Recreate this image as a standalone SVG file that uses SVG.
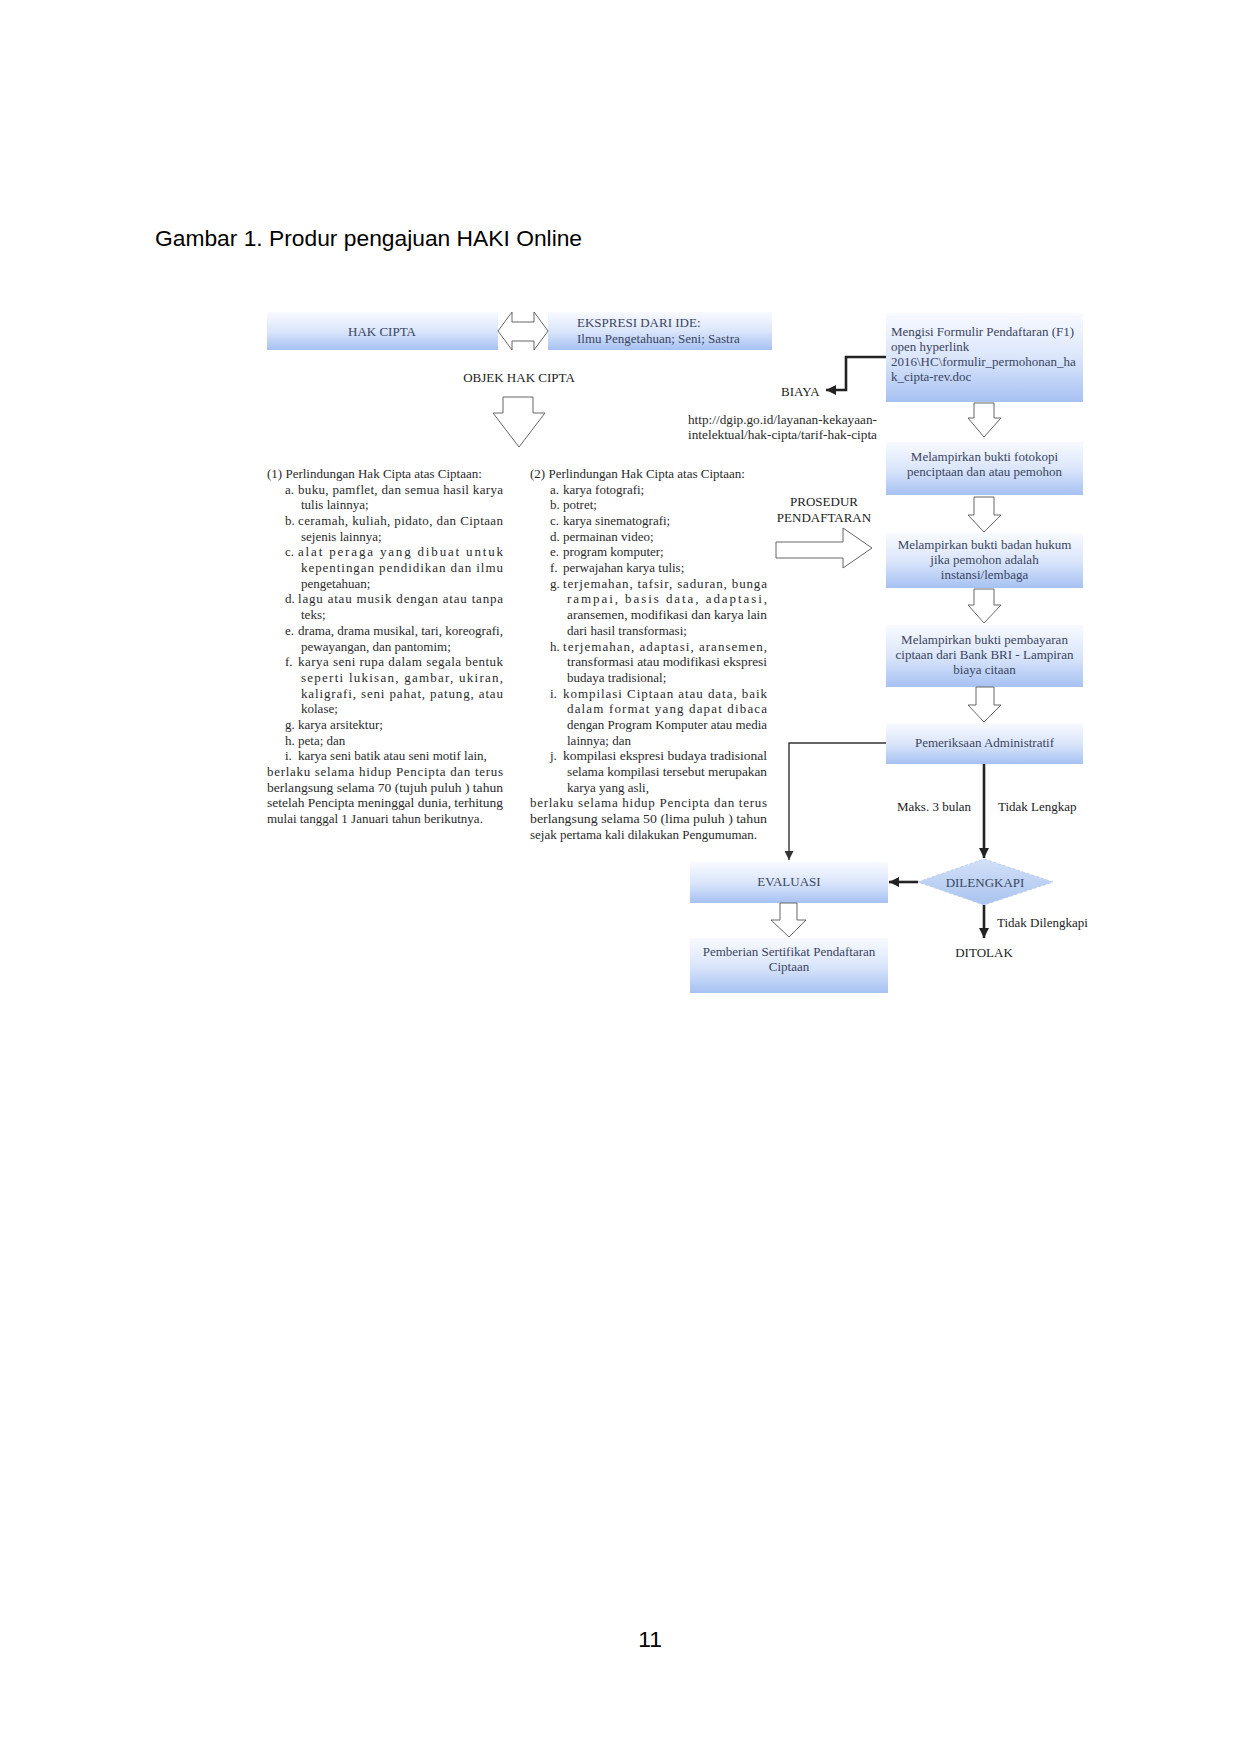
<svg xmlns="http://www.w3.org/2000/svg" width="1241" height="1755" viewBox="0 0 1241 1755">
<defs>
<linearGradient id="boxg" x1="0" y1="0" x2="0" y2="1">
<stop offset="0" stop-color="#f8faff"/>
<stop offset="0.5" stop-color="#dbe6fb"/>
<stop offset="1" stop-color="#a6c1f2"/>
</linearGradient>
<linearGradient id="diag" x1="0" y1="0" x2="0" y2="1">
<stop offset="0" stop-color="#d3e1f8"/>
<stop offset="1" stop-color="#a9c3ef"/>
</linearGradient>
<marker id="ah" viewBox="0 0 10 10" refX="10" refY="5" markerWidth="11" markerHeight="10" orient="auto" markerUnits="userSpaceOnUse">
<path d="M0,0 L10,5 L0,10 z" fill="#222"/>
</marker>
<marker id="ahs" viewBox="0 0 10 10" refX="10" refY="5" markerWidth="9" markerHeight="9" orient="auto" markerUnits="userSpaceOnUse">
<path d="M0,0 L10,5 L0,10 z" fill="#333"/>
</marker>
</defs>
<style>
.box{fill:url(#boxg);stroke:none}
.bx{font-family:"Liberation Serif","Times New Roman",serif;font-size:13px;fill:#3a4560}
.t{font-family:"Liberation Serif","Times New Roman",serif;font-size:13px;fill:#222}
.c{font-family:"Liberation Serif","Times New Roman",serif;font-size:13px;fill:#2a2a2a}
.hollow{fill:#fff;stroke:#666;stroke-width:1}
.thick{fill:none;stroke:#222;stroke-width:2.6}
.thin{fill:none;stroke:#333;stroke-width:1.4}
.sans{font-family:"Liberation Sans",Arial,sans-serif;font-size:22.8px;fill:#000}
</style>
<rect width="1241" height="1755" fill="#fff"/>
<text class="sans" x="155" y="246">Gambar 1. Produr pengajuan HAKI Online</text>
<text class="sans" x="650" y="1647" text-anchor="middle">11</text>

<g id="hak-cipta">
<rect class="box" x="267" y="312" width="231" height="38"/>
<text class="bx" x="382" y="336" text-anchor="middle">HAK CIPTA</text>
</g>
<g id="ekspresi">
<rect class="box" x="548" y="312" width="224" height="38"/>
<text class="bx" x="577" y="327">EKSPRESI DARI IDE:</text>
<text class="bx" x="577" y="343">Ilmu Pengetahuan; Seni; Sastra</text>
</g>
<g id="objek">
<text class="t" x="519" y="382" text-anchor="middle">OBJEK HAK CIPTA</text>
</g>

<g id="col1">
<text class="c" x="267" y="478">(1) Perlindungan Hak Cipta atas Ciptaan:</text>
<text class="c" x="285" y="493.7">a.</text><text class="c" x="298" y="493.7" textLength="205" lengthAdjust="spacing">buku, pamflet, dan semua hasil karya</text>
<text class="c" x="301" y="509.4">tulis lainnya;</text>
<text class="c" x="285" y="525">b.</text><text class="c" x="298" y="525" textLength="205" lengthAdjust="spacing">ceramah, kuliah, pidato, dan Ciptaan</text>
<text class="c" x="301" y="540.7">sejenis lainnya;</text>
<text class="c" x="285" y="556.4">c.</text><text class="c" x="298" y="556.4" textLength="205" lengthAdjust="spacing">alat peraga yang dibuat untuk</text>
<text class="c" x="301" y="572.1" textLength="202" lengthAdjust="spacing">kepentingan pendidikan dan ilmu</text>
<text class="c" x="301" y="587.8">pengetahuan;</text>
<text class="c" x="285" y="603.4">d.</text><text class="c" x="298" y="603.4" textLength="205" lengthAdjust="spacing">lagu atau musik dengan atau tanpa</text>
<text class="c" x="301" y="619.1">teks;</text>
<text class="c" x="285" y="634.8">e.</text><text class="c" x="298" y="634.8" textLength="205" lengthAdjust="spacingAndGlyphs">drama, drama musikal, tari, koreografi,</text>
<text class="c" x="301" y="650.5">pewayangan, dan pantomim;</text>
<text class="c" x="285" y="666.2">f.</text><text class="c" x="298" y="666.2" textLength="205" lengthAdjust="spacing">karya seni rupa dalam segala bentuk</text>
<text class="c" x="301" y="681.8" textLength="202" lengthAdjust="spacing">seperti lukisan, gambar, ukiran,</text>
<text class="c" x="301" y="697.5" textLength="202" lengthAdjust="spacing">kaligrafi, seni pahat, patung, atau</text>
<text class="c" x="301" y="713.2">kolase;</text>
<text class="c" x="285" y="728.9">g.</text><text class="c" x="298" y="728.9">karya arsitektur;</text>
<text class="c" x="285" y="744.6">h.</text><text class="c" x="298" y="744.6">peta; dan</text>
<text class="c" x="285" y="760.2">i.</text><text class="c" x="298" y="760.2">karya seni batik atau seni motif lain,</text>
<text class="c" x="267" y="775.9" textLength="236" lengthAdjust="spacing">berlaku selama hidup Pencipta dan terus</text>
<text class="c" x="267" y="791.6" textLength="236" lengthAdjust="spacingAndGlyphs">berlangsung selama 70 (tujuh puluh ) tahun</text>
<text class="c" x="267" y="807.3" textLength="236" lengthAdjust="spacingAndGlyphs">setelah Pencipta meninggal dunia, terhitung</text>
<text class="c" x="267" y="823">mulai tanggal 1 Januari tahun berikutnya.</text>
</g>

<g id="col2">
<text class="c" x="530" y="478">(2) Perlindungan Hak Cipta atas Ciptaan:</text>
<text class="c" x="550" y="493.7">a.</text><text class="c" x="563" y="493.7">karya fotografi;</text>
<text class="c" x="550" y="509.4">b.</text><text class="c" x="563" y="509.4">potret;</text>
<text class="c" x="550" y="525">c.</text><text class="c" x="563" y="525">karya sinematografi;</text>
<text class="c" x="550" y="540.7">d.</text><text class="c" x="563" y="540.7">permainan video;</text>
<text class="c" x="550" y="556.4">e.</text><text class="c" x="563" y="556.4">program komputer;</text>
<text class="c" x="550" y="572.1">f.</text><text class="c" x="563" y="572.1">perwajahan karya tulis;</text>
<text class="c" x="550" y="587.8">g.</text><text class="c" x="563" y="587.8" textLength="204" lengthAdjust="spacing">terjemahan, tafsir, saduran, bunga</text>
<text class="c" x="567" y="603.4" textLength="200" lengthAdjust="spacing">rampai, basis data, adaptasi,</text>
<text class="c" x="567" y="619.1" textLength="200" lengthAdjust="spacingAndGlyphs">aransemen, modifikasi dan karya lain</text>
<text class="c" x="567" y="634.8">dari hasil transformasi;</text>
<text class="c" x="550" y="650.5">h.</text><text class="c" x="563" y="650.5" textLength="204" lengthAdjust="spacing">terjemahan, adaptasi, aransemen,</text>
<text class="c" x="567" y="666.2" textLength="200" lengthAdjust="spacingAndGlyphs">transformasi atau modifikasi ekspresi</text>
<text class="c" x="567" y="681.8">budaya tradisional;</text>
<text class="c" x="550" y="697.5">i.</text><text class="c" x="563" y="697.5" textLength="204" lengthAdjust="spacing">kompilasi Ciptaan atau data, baik</text>
<text class="c" x="567" y="713.2" textLength="200" lengthAdjust="spacing">dalam format yang dapat dibaca</text>
<text class="c" x="567" y="728.9" textLength="200" lengthAdjust="spacingAndGlyphs">dengan Program Komputer atau media</text>
<text class="c" x="567" y="744.6">lainnya; dan</text>
<text class="c" x="550" y="760.2">j.</text><text class="c" x="563" y="760.2" textLength="204" lengthAdjust="spacingAndGlyphs">kompilasi ekspresi budaya tradisional</text>
<text class="c" x="567" y="775.9" textLength="200" lengthAdjust="spacingAndGlyphs">selama kompilasi tersebut merupakan</text>
<text class="c" x="567" y="791.6">karya yang asli,</text>
<text class="c" x="530" y="807.3" textLength="237" lengthAdjust="spacing">berlaku selama hidup Pencipta dan terus</text>
<text class="c" x="530" y="823" textLength="237" lengthAdjust="spacingAndGlyphs">berlangsung selama 50 (lima puluh ) tahun</text>
<text class="c" x="530" y="838.6">sejak pertama kali dilakukan Pengumuman.</text>
</g>

<g id="formulir">
<rect class="box" x="886" y="313" width="197" height="89"/>
<text class="bx" x="891" y="336">Mengisi Formulir Pendaftaran (F1)</text>
<text class="bx" x="891" y="351">open hyperlink</text>
<text class="bx" x="891" y="366" fill="#2c4a80">2016\HC\formulir_permohonan_ha</text>
<text class="bx" x="891" y="381" fill="#2c4a80">k_cipta-rev.doc</text>
</g>
<g id="biaya">
<text class="t" x="781" y="396">BIAYA</text>
<text class="c" x="688" y="424" textLength="189" lengthAdjust="spacingAndGlyphs">http://dgip.go.id/layanan-kekayaan-</text>
<text class="c" x="688" y="439" textLength="189" lengthAdjust="spacingAndGlyphs">intelektual/hak-cipta/tarif-hak-cipta</text>
</g>
<g id="fotokopi">
<rect class="box" x="886" y="442" width="197" height="53"/>
<text class="bx" x="984.5" y="461" text-anchor="middle">Melampirkan bukti fotokopi</text>
<text class="bx" x="984.5" y="476" text-anchor="middle">penciptaan dan atau pemohon</text>
</g>
<g id="prosedur">
<text class="t" x="824" y="506" text-anchor="middle">PROSEDUR</text>
<text class="t" x="824" y="522" text-anchor="middle">PENDAFTARAN</text>
</g>
<g id="badan-hukum">
<rect class="box" x="886" y="533" width="197" height="55"/>
<text class="bx" x="984.5" y="549" text-anchor="middle">Melampirkan bukti badan hukum</text>
<text class="bx" x="984.5" y="564" text-anchor="middle">jika pemohon adalah</text>
<text class="bx" x="984.5" y="579" text-anchor="middle">instansi/lembaga</text>
</g>
<g id="pembayaran">
<rect class="box" x="886" y="625" width="197" height="62"/>
<text class="bx" x="984.5" y="644" text-anchor="middle">Melampirkan bukti pembayaran</text>
<text class="bx" x="984.5" y="659" text-anchor="middle">ciptaan dari Bank BRI - Lampiran</text>
<text class="bx" x="984.5" y="674" text-anchor="middle">biaya citaan</text>
</g>
<g id="pemeriksaan">
<rect class="box" x="886" y="723" width="197" height="41"/>
<text class="bx" x="984.5" y="747" text-anchor="middle">Pemeriksaan Administratif</text>
</g>
<g id="labels">
<text class="t" x="897" y="811">Maks. 3 bulan</text>
<text class="t" x="998" y="811">Tidak Lengkap</text>
<text class="t" x="997" y="927">Tidak Dilengkapi</text>
</g>
<g id="evaluasi">
<rect class="box" x="690" y="862" width="198" height="41"/>
<text class="bx" x="789" y="886" text-anchor="middle">EVALUASI</text>
</g>
<g id="dilengkapi">
<polygon points="984,859 1053,882 984,905 918,882" fill="url(#diag)" stroke="#b9cdee" stroke-width="1" stroke-dasharray="3,2"/>
<text class="bx" x="985" y="887" text-anchor="middle">DILENGKAPI</text>
</g>
<g id="ditolak">
<text class="t" x="984" y="957" text-anchor="middle">DITOLAK</text>
</g>
<g id="sertifikat">
<rect class="box" x="690" y="938" width="198" height="55"/>
<text class="bx" x="789" y="956" text-anchor="middle">Pemberian Sertifikat Pendaftaran</text>
<text class="bx" x="789" y="971" text-anchor="middle">Ciptaan</text>
</g>

<g id="connectors">
<polygon class="hollow" points="498,331 512,312 512,322 534,322 534,312 548,331 534,350 534,341 512,341 512,350"/>
<polygon class="hollow" points="503,397 533,397 533,413 545,413 519,447 493,413 503,413"/>
<polyline class="thick" points="886,357 846,357 846,390 826,390" marker-end="url(#ah)"/>
<polygon class="hollow" points="974,403 994,403 994,418 1001,418 984,437 968,418 974,418"/>
<polygon class="hollow" points="974,497 994,497 994,515 1001,515 984,532 968,515 974,515"/>
<polygon class="hollow" points="776,542 843,542 843,528 872,548 843,568 843,558 776,558"/>
<polygon class="hollow" points="974,589 994,589 994,605 1001,605 984,623 968,605 974,605"/>
<polygon class="hollow" points="976,687 994,687 994,705 1001,705 984,722 968,705 976,705"/>
<polyline class="thin" points="886,743 789,743 789,860" marker-end="url(#ahs)"/>
<line class="thick" x1="984" y1="764" x2="984" y2="858" marker-end="url(#ah)"/>
<line class="thick" x1="918" y1="882" x2="889" y2="882" marker-end="url(#ah)"/>
<line class="thick" x1="984" y1="905" x2="984" y2="938" marker-end="url(#ah)"/>
<polygon class="hollow" points="780,903 797,903 797,920 806,920 789,937 771,920 780,920"/>
</g>
</svg>
